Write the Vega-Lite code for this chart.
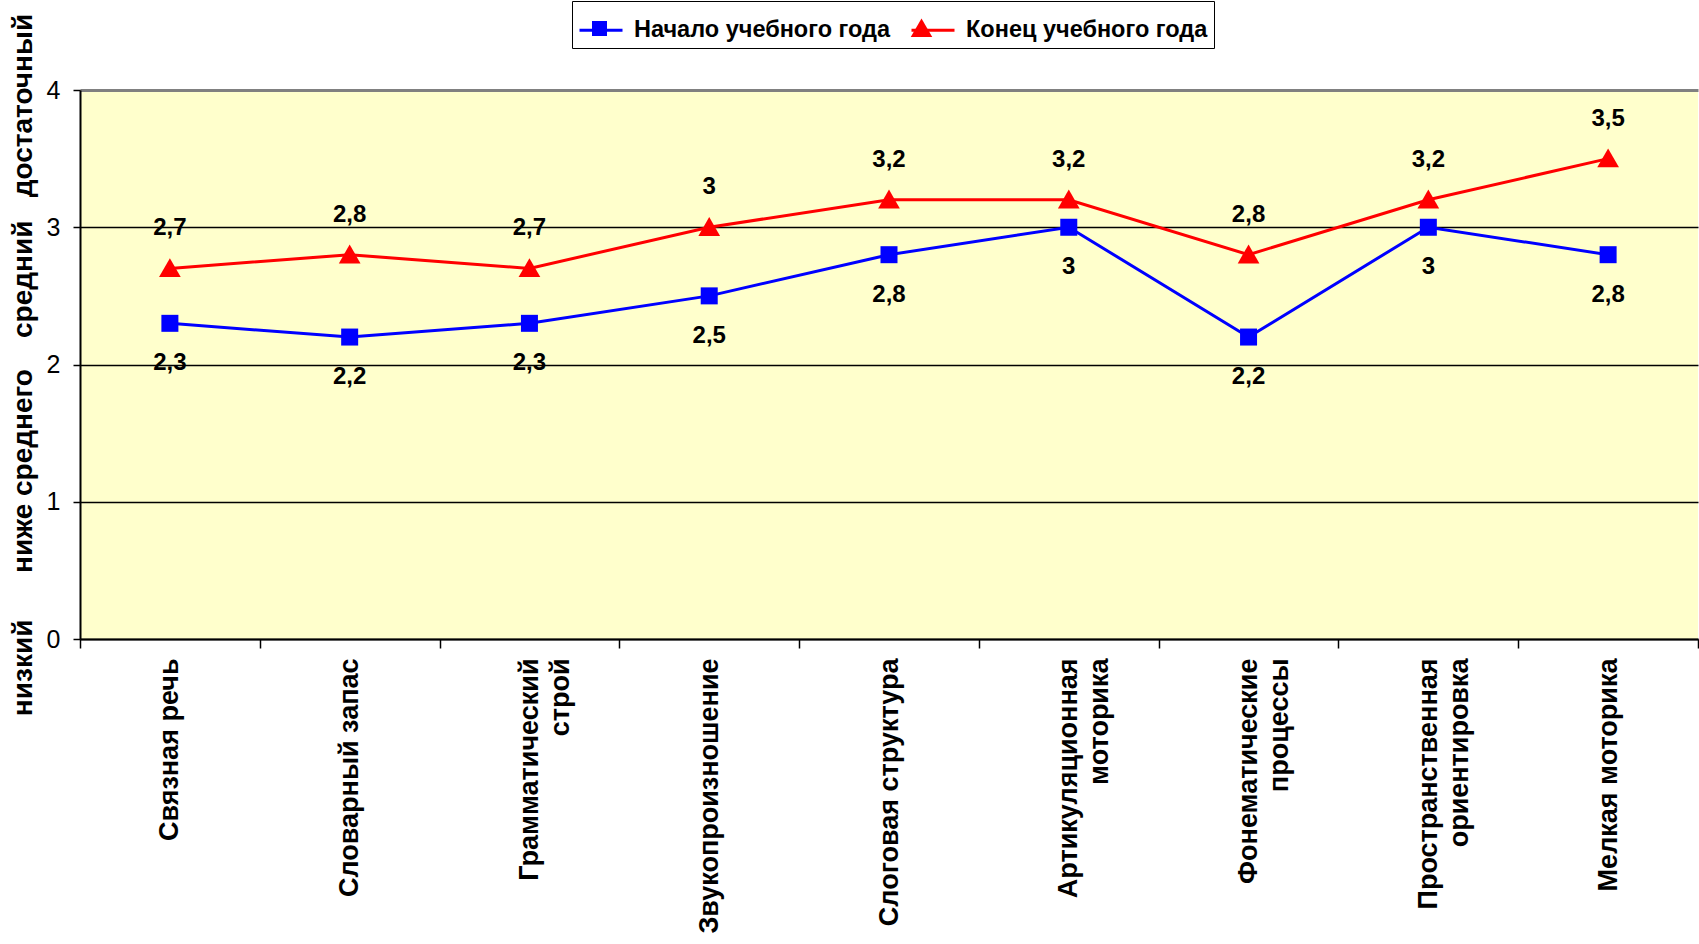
{
  "$schema": "https://vega.github.io/schema/vega-lite/v6.json",
  "width": 1618,
  "height": 549,
  "padding": {"left": 9, "top": 0, "right": 0, "bottom": 0},
  "background": "white",
  "config": {
    "locale": {"number": {"decimal": ",", "thousands": " ", "grouping": [3], "currency": ["", " ₽"]}},
    "view": {"stroke": null, "fill": "#FFFFCC"}
  },
  "data": {
    "values": [
      {"category": "Связная речь", "series": "Начало учебного года", "value": 2.3},
      {"category": "Словарный запас", "series": "Начало учебного года", "value": 2.2},
      {"category": "Грамматический строй", "series": "Начало учебного года", "value": 2.3},
      {"category": "Звукопроизношение", "series": "Начало учебного года", "value": 2.5},
      {"category": "Слоговая структура", "series": "Начало учебного года", "value": 2.8},
      {"category": "Артикуляционная моторика", "series": "Начало учебного года", "value": 3},
      {"category": "Фонематические процессы", "series": "Начало учебного года", "value": 2.2},
      {"category": "Пространственная ориентировка", "series": "Начало учебного года", "value": 3},
      {"category": "Мелкая моторика", "series": "Начало учебного года", "value": 2.8},
      {"category": "Связная речь", "series": "Конец учебного года", "value": 2.7},
      {"category": "Словарный запас", "series": "Конец учебного года", "value": 2.8},
      {"category": "Грамматический строй", "series": "Конец учебного года", "value": 2.7},
      {"category": "Звукопроизношение", "series": "Конец учебного года", "value": 3},
      {"category": "Слоговая структура", "series": "Конец учебного года", "value": 3.2},
      {"category": "Артикуляционная моторика", "series": "Конец учебного года", "value": 3.2},
      {"category": "Фонематические процессы", "series": "Конец учебного года", "value": 2.8},
      {"category": "Пространственная ориентировка", "series": "Конец учебного года", "value": 3.2},
      {"category": "Мелкая моторика", "series": "Конец учебного года", "value": 3.5}
    ]
  },
  "encoding": {
    "x": {
      "field": "category", "type": "nominal", "sort": null,
      "scale": {"type": "band", "paddingInner": 0, "paddingOuter": 0},
      "axis": {
        "title": null,
        "labelAngle": -90,
        "labelFont": "Liberation Sans",
        "labelFontWeight": "bold",
        "labelFontSize": 27,
        "labelColor": "black",
        "labelLineHeight": 31,
        "labelPadding": 10,
        "labelExpr": "length(datum.label) > 19 ? split(datum.label, ' ') : datum.label",
        "tickBand": "extent",
        "tickSize": 9,
        "tickColor": "black",
        "tickWidth": 1.5,
        "domainColor": "black",
        "domainWidth": 2,
        "labelLimit": 400
      }
    },
    "y": {
      "field": "value", "type": "quantitative",
      "scale": {"domain": [0, 4], "nice": false},
      "axis": {
        "values": [0, 1, 2, 3, 4],
        "title": "\u00a0\u00a0\u00a0\u00a0\u00a0\u00a0низкий\u00a0\u00a0\u00a0\u00a0\u00a0\u00a0ниже среднего\u00a0\u00a0\u00a0\u00a0средний\u00a0\u00a0\u00a0достаточный",
        "titleFont": "Liberation Sans",
        "titleFontWeight": "bold",
        "titleFontSize": 28,
        "titleColor": "black",
        "titlePadding": 9,
        "labelFont": "Liberation Sans",
        "labelFontSize": 25,
        "labelFontWeight": "normal",
        "labelColor": "black",
        "labelPadding": 13,
        "tickSize": 7,
        "tickColor": "black",
        "tickWidth": 1.5,
        "domainColor": "black",
        "domainWidth": 2,
        "grid": true,
        "gridColor": {"condition": {"test": "datum.value === 4", "value": "#808080"}, "value": "black"},
        "gridWidth": {"condition": {"test": "datum.value === 4", "value": 3}, "value": 1.5}
      }
    }
  },
  "layer": [
    {
      "mark": {"type": "line", "strokeWidth": 3},
      "encoding": {
        "color": {
          "field": "series", "type": "nominal",
          "scale": {"domain": ["Начало учебного года", "Конец учебного года"], "range": ["#0000FF", "#FF0000"]},
          "legend": {
            "title": null,
            "orient": "none",
            "legendX": 492,
            "legendY": -89,
            "direction": "horizontal",
            "labelFont": "Liberation Sans",
            "labelFontWeight": "bold",
            "labelFontSize": 23.5,
            "labelColor": "black",
            "labelLimit": 500,
            "strokeColor": "black",
            "fillColor": "white",
            "padding": 6,
            "symbolType": "stroke",
            "symbolSize": 1849,
            "symbolStrokeWidth": 3,
            "columnPadding": 14,
            "labelOffset": 10,
            "zindex": 0
          }
        }
      }
    },
    {
      "transform": [{"filter": "datum.series === 'Начало учебного года'"}],
      "mark": {"type": "point", "filled": true, "opacity": 1, "size": 2360, "strokeWidth": 0},
      "encoding": {
        "fill": {
          "field": "series", "type": "nominal",
          "scale": {"domain": ["Конец учебного года", "Начало учебного года"], "range": ["#FF0000", "#0000FF"]},
          "legend": {
            "title": null, "orient": "none", "legendX": 492, "legendY": -89, "direction": "horizontal",
            "values": ["Начало учебного года", "Конец учебного года"],
            "labelExpr": "''",
            "labelFont": "Liberation Sans", "labelFontWeight": "bold", "labelFontSize": 23.5, "labelLimit": 500,
            "strokeColor": "transparent", "fillColor": "transparent", "padding": 6,
            "symbolSize": 1849, "symbolStrokeWidth": 0, "symbolOpacity": 1, "columnPadding": 269, "labelOffset": 10, "zindex": 1
          }
        },
        "shape": {
          "field": "series", "type": "nominal",
          "scale": {"domain": ["Конец учебного года", "Начало учебного года"], "range": ["M0,-0.47L0.5,0.4H-0.5Z", "M-0.35,-0.35H0.35V0.35H-0.35Z"]},
          "legend": {
            "title": null, "orient": "none", "legendX": 492, "legendY": -89, "direction": "horizontal",
            "values": ["Начало учебного года", "Конец учебного года"],
            "labelExpr": "''",
            "labelFont": "Liberation Sans", "labelFontWeight": "bold", "labelFontSize": 23.5, "labelLimit": 500,
            "strokeColor": "transparent", "fillColor": "transparent", "padding": 6,
            "symbolSize": 1849, "symbolStrokeWidth": 0, "symbolOpacity": 1, "columnPadding": 269, "labelOffset": 10, "zindex": 1
          }
        }
      }
    },
    {
      "transform": [{"filter": "datum.series === 'Конец учебного года'"}],
      "mark": {"type": "point", "filled": true, "opacity": 1, "size": 1884, "strokeWidth": 0},
      "encoding": {
        "fill": {"field": "series", "type": "nominal"},
        "shape": {"field": "series", "type": "nominal"}
      }
    },
    {
      "transform": [{"filter": "datum.series === 'Конец учебного года'"}],
      "mark": {"type": "text", "dy": -40, "font": "Liberation Sans", "fontWeight": "bold", "fontSize": 24},
      "encoding": {"text": {"field": "value", "type": "quantitative", "format": "~g"}, "color": {"value": "black"}}
    },
    {
      "transform": [{"filter": "datum.series === 'Начало учебного года'"}],
      "mark": {"type": "text", "dy": 40, "font": "Liberation Sans", "fontWeight": "bold", "fontSize": 24},
      "encoding": {"text": {"field": "value", "type": "quantitative", "format": "~g"}, "color": {"value": "black"}}
    }
  ]
}
